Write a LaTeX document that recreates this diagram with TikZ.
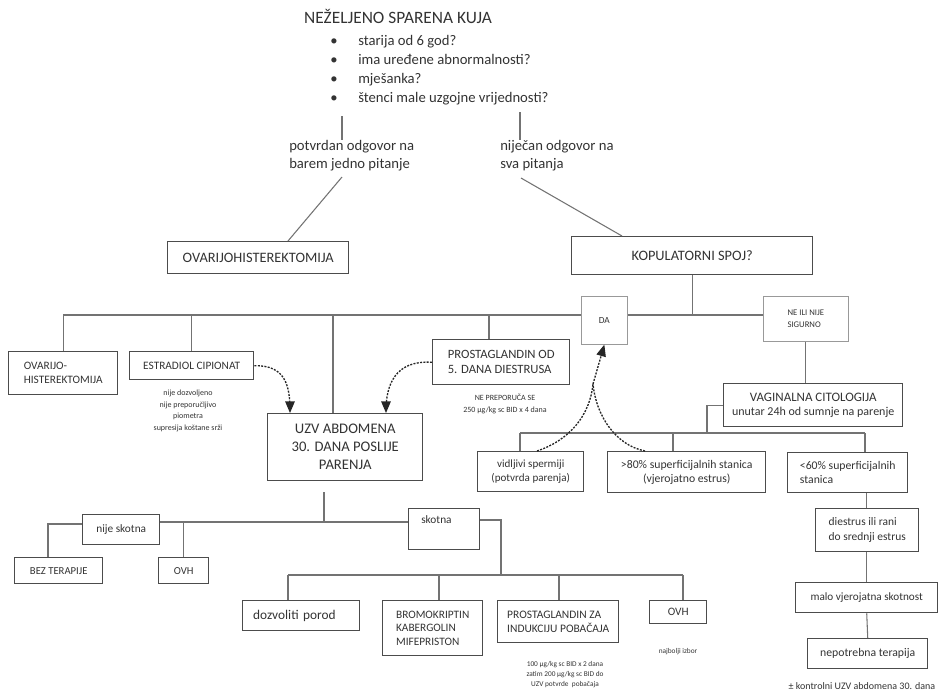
\documentclass[tikz,border=0pt]{standalone}
\usepackage{fontspec}
\setmainfont{Carlito}
\usepackage{tikz}
\usetikzlibrary{arrows}
\usetikzlibrary{positioning}

\newcommand{\fsz}[2]{\fontsize{#1pt}{#2pt}\selectfont}

\begin{document}
\begin{tikzpicture}[x=0.75pt, y=-0.75pt, >=triangle 45, font={\fsz{8.8}{10.5}},
    bw/.style={minimum width=#1*0.75pt}, bh/.style={minimum height=#1*0.75pt}]
  \tikzstyle{every node}=[text=black!80]
  \tikzstyle{box}=[draw=black!70, line width=1.1pt, inner sep=0pt, anchor=north west, align=center]
  \tikzstyle{thinbox}=[box, draw=black!40, line width=0.5pt]
  \tikzstyle{link}=[draw=black!55, line width=0.8pt]
  \tikzstyle{hint}=[->, black!85, line width=1pt, dash pattern=on 1.5pt off 1pt]
  \tikzstyle{note}=[align=center, inner sep=0pt]
  \useasboundingbox (0,0) rectangle (940,693);

  % pitanja
  \node (title) at (398,16) {\fsz{13}{15}NEŽELJENO SPARENA KUJA};
  \foreach \q [count=\i] in {starija od 6 god?, ima uređene abnormalnosti?, mješanka?, štenci male uzgojne vrijednosti?}
    \node[anchor=base west, inner sep=0pt] (q\i) at (330,26+19*\i) {\fsz{11}{13}\makebox[21pt][l]{\textbullet}\q};

  \node[anchor=north west, align=left, inner sep=0pt, font={\fsz{11}{13.5}}] (yes) at (289,140) {potvrdan odgovor na\\barem jedno pitanje};
  \node[anchor=north west, align=left, inner sep=0pt, font={\fsz{11}{13.5}}] (no) at (500,140) {niječan odgovor na\\sva pitanja};

  \node[box, bw=181, bh=32, font={\fsz{10.8}{13}}] (ovh1) at (167,241) {OVARIJOHISTEREKTOMIJA};
  \node[box, bw=241, bh=38, font={\fsz{10.8}{13}}] (kop) at (571,236) {KOPULATORNI SPOJ?};
  \node[thinbox, bw=46, bh=48, font={\fsz{7}{8}}] (da) at (581,296) {DA};
  \node[thinbox, bw=85, bh=45, align=left, font={\fsz{6.5}{9}}] (ne) at (763,296) {NE ILI NIJE\\SIGURNO};

  % grana DA
  \node[box, bw=109, bh=43, align=left, font={\fsz{8.5}{10.5}}] (ovh2) at (8,351) {OVARIJO-\\HISTEREKTOMIJA};
  \node[box, bw=124, bh=28, font={\fsz{8.5}{10}}] (estr) at (129,351) {ESTRADIOL CIPIONAT};
  \node[note, font={\fsz{6}{8.6}}] (estrnote) at (188,411) {nije dozvoljeno\\nije preporučljivo\\piometra\\supresija koštane srži};
  \node[box, bw=137, bh=45, align=left, font={\fsz{9.5}{11.5}}] (prost) at (432,339) {PROSTAGLANDIN OD\\5. DANA DIESTRUSA};
  \node[note, font={\fsz{6}{9}}] (prostnote) at (505,404) {NE PREPORUČA SE\\250 µg/kg sc BID x 4 dana};
  \node[box, bw=155, bh=67, font={\fsz{11}{13.5}}] (uzv) at (267,413) {UZV ABDOMENA\\30. DANA POSLIJE\\PARENJA};

  % grana NE
  \node[box, bw=179, bh=43] (vag) at (723,383) {{\fsz{9.7}{11}VAGINALNA CITOLOGIJA}\\{\fsz{9}{11.2}unutar 24h od sumnje na parenje}};
  \node[box, bw=106, bh=40, font={\fsz{8.3}{10}}] (vid) at (477,451) {vidljivi spermiji\\(potvrda parenja)};
  \node[box, bw=158, bh=41] (sup) at (607,451) {>80\% superficijalnih stanica\\(vjerojatno estrus)};
  \node[box, bw=120, bh=40, align=left] (low) at (787,452) {<60\% superficijalnih\\stanica};
  \node[box, bw=103, bh=43, align=left, font={\fsz{8.6}{11.2}}] (dies) at (815,508) {diestrus ili rani\\do srednji estrus};
  \node[box, bw=142, bh=30, font={\fsz{8.4}{10}}] (malo) at (795,582) {malo vjerojatna skotnost};
  \node[box, bw=120, bh=30] (nep) at (807,638) {nepotrebna terapija};
  \node[note, font={\fsz{7.5}{9}}] (nepnote) at (862,686) {± kontrolni UZV abdomena 30. dana};

  % nakon UZV
  \node[box, bw=77, bh=30, font={\fsz{8.5}{10}}] (nsk) at (82,514) {nije skotna};
  \node[box, bw=88, bh=26, font={\fsz{8}{10}}] (bez) at (14,557) {BEZ TERAPIJE};
  \node[box, bw=50, bh=26, font={\fsz{8}{10}}] (ovh3) at (158,557) {OVH};
  \node[box, bw=71, bh=41] (sk) at (408,508) {};
  \node[anchor=north west, inner sep=0pt, font={\fsz{8.5}{10}}] (sktext) at (421,515) {skotna};
  \node[box, bw=117, bh=30, text width=72pt, align=left, font={\fsz{10}{12}}] (doz) at (242,600) {dozvoliti porod};
  \node[box, bw=100, bh=55, align=left, font={\fsz{8.5}{10}}] (brom) at (382,600) {BROMOKRIPTIN\\KABERGOLIN\\MIFEPRISTON};
  \node[box, bw=121, bh=42, align=left, font={\fsz{8.6}{10.5}}] (pind) at (497,600) {PROSTAGLANDIN ZA\\INDUKCIJU POBAČAJA};
  \node[note, font={\fsz{5.5}{7.5}}] (pindnote) at (565,675) {100 µg/kg sc BID x 2 dana\\zatim 200 µg/kg sc BID do\\UZV potvrde\ \ pobačaja};
  \node[box, bw=57, bh=23, font={\fsz{8.5}{10}}] (ovh4) at (649,600) {OVH};
  \node[note, font={\fsz{5.5}{7}}] (ovh4note) at (678,652) {najbolji izbor};

  % veze gore
  \coordinate (s1) at (342,116);
  \coordinate (s2) at (520,112);
  \coordinate (t1) at (342,177);
  \coordinate (t2) at (521,178);
  \draw[link] (s1) -- (s1 |- yes.north);
  \draw[link] (s2) -- (s2 |- no.north);
  \draw[link] (t1) -- (288,0 |- ovh1.north);
  \draw[link] (t2) -- (622,0 |- kop.north);

  \coordinate (bus1) at (63,315);
  \coordinate (b1u) at (333,315);
  \coordinate (b1p) at (489,315);
  \draw[link] (kop.south) -- (kop.south |- bus1);
  \draw[link] (bus1) -- (bus1 -| da.west);
  \draw[link] (bus1 -| da.east) -- (bus1 -| ne.west);
  \draw[link] (ovh2.north |- bus1) -- (ovh2.north);
  \draw[link] (estr.north |- bus1) -- (estr.north);
  \draw[link] (b1u) -- (b1u |- uzv.north);
  \draw[link] (b1p) -- (b1p |- prost.north);

  % citologija
  \coordinate (vbend) at (707,433);
  \coordinate (c1) at (520,433);
  \coordinate (c2) at (673,433);
  \coordinate (c3) at (865,433);
  \draw[link] (ne.south) -- (ne.south |- vag.north);
  \draw[link] (vag.west) -| (vbend) -- ++(-19,0);
  \draw[link] (c1) -- (c3);
  \draw[link] (c1) -- (c1 |- vid.north);
  \draw[link] (c2) -- (c2 |- sup.north);
  \draw[link] (c3) -- (c3 |- low.north);
  \draw[link] (malo.north |- low.south) -- (malo.north |- dies.north);
  \draw[link] (malo.north |- dies.south) -- (malo.north);
  \draw[link] (malo.south) -- (nep.north);

  % UZV ishodi
  \coordinate (u1) at (324,492);
  \coordinate (u2) at (324,522);
  \coordinate (nb) at (48,524);
  \draw[link] (u1) -- (u2);
  \draw[link] (nsk.east |- u2) -- (sk.west |- u2);
  \draw[link] (nsk.west |- nb) -- (nb) -- (nb |- bez.north);
  \draw[link] (ovh3.north |- u2) -- (ovh3.north);

  \coordinate (skb) at (501,520);
  \coordinate (e1) at (288,575);
  \coordinate (e2) at (439,575);
  \coordinate (e3) at (559,575);
  \coordinate (e4) at (683,575);
  \draw[link] (sk.east |- skb) -- (skb) -- (skb |- e1);
  \draw[link] (e1) -- (e4);
  \draw[link] (e1) -- (e1 |- doz.north);
  \draw[link] (e2) -- (e2 |- brom.north);
  \draw[link] (e3) -- (e3 |- pind.north);
  \draw[link] (e4) -- (e4 |- ovh4.north);

  % isprekidane strelice
  \coordinate (meet) at (593,384);
  \draw[hint] (estr.east) .. controls (285,365) and (290,385) .. (290,0 |- uzv.north);
  \draw[hint] (prost.west) .. controls (395,360) and (386,385) .. (386,0 |- uzv.north);
  \draw[hint, -] ([shift={(60,0)}]vid.north west) .. controls (570,440) and (590,415) .. (meet);
  \draw[hint, -] ([shift={(38,0)}]sup.north west) .. controls (615,445) and (596,415) .. (meet);
  \draw[hint] (meet) -- (da.south);
\end{tikzpicture}
\end{document}
